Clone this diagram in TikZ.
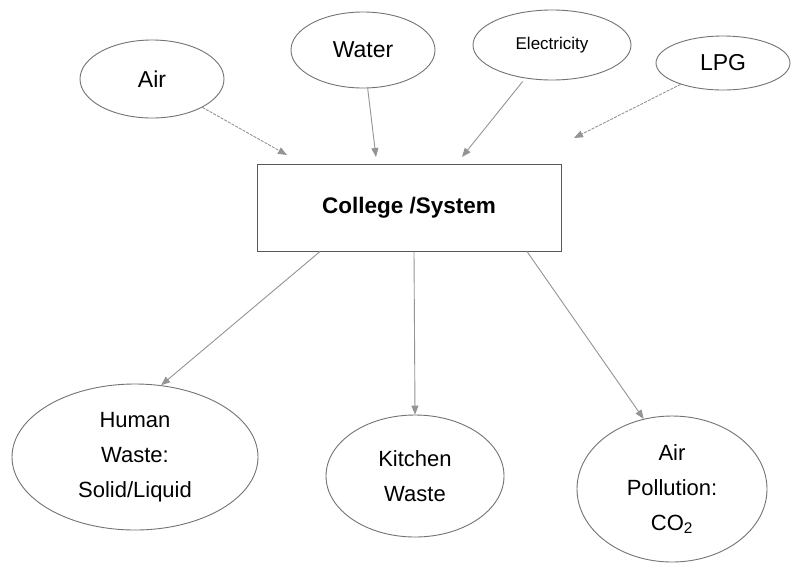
\documentclass[tikz,border=0pt]{standalone}
\usepackage{fontspec}
\setmainfont{Liberation Sans}
\usetikzlibrary{arrows.meta,shapes.geometric}

\begin{document}
\begin{tikzpicture}[x=1pt,y=-1pt, every node/.style={font=\fontsize{23}{36}\selectfont,text=black},
  source/.style={draw=black!55,ellipse,inner sep=0pt,line width=0.9pt},
  sink/.style={source,align=center,font=\fontsize{22}{35}\selectfont},
  sys/.style={draw=black!65,line width=1pt,inner sep=0pt,font=\bfseries\fontsize{22.5}{26}\selectfont},
  edge/.style={-{Triangle[length=9pt,width=7pt]},draw=black!42,line width=0.9pt},
  loose/.style={edge,dash pattern=on 3pt off 1.2pt}]
  \path[use as bounding box,fill=white] (0,0) rectangle (791,563);
  % inputs
  \node[source,minimum width=144pt,minimum height=78pt] (air) at (152,79) {Air};
  \node[source,minimum width=144pt,minimum height=76pt] (water) at (363,50) {Water};
  \node[source,minimum width=158pt,minimum height=70pt,font=\fontsize{17}{20}\selectfont] (elec) at (552,45) {Electricity};
  \node[source,minimum width=134pt,minimum height=54pt] (lpg) at (723,63) {LPG};
  \node[sys,minimum width=304pt,minimum height=87pt] (box) at (409,207.5) {College /System};
  % outputs
  \node[sink,minimum width=246pt,minimum height=146pt] (human) at (135,457) {Human\\Waste:\\Solid/Liquid};
  \node[sink,minimum width=178pt,minimum height=122pt] (kitchen) at (415,476) {Kitchen\\Waste};
  \node[sink,minimum width=190pt,minimum height=146pt] (pollution) at (672,489) {Air\\Pollution:\\CO\textsubscript{2}};
  \coordinate (airin) at (287,155); \coordinate (waterin) at (376,157);
  \coordinate (elecin) at (462,157); \coordinate (lpgin) at (574,138);
  \draw[loose] (air) -- (airin);
  \draw[edge] (water) -- (waterin);
  \draw[edge,shorten <=4pt] (elec) -- (elecin);
  \draw[loose] (lpg) -- (lpgin);
  \draw[edge] ([xshift=-89pt]box.south) -- (human.70);
  \draw[edge] ([xshift=5pt]box.south) -- (kitchen.north);
  \draw[edge] ([xshift=118pt]box.south) -- (pollution.112);
\end{tikzpicture}
\end{document}
